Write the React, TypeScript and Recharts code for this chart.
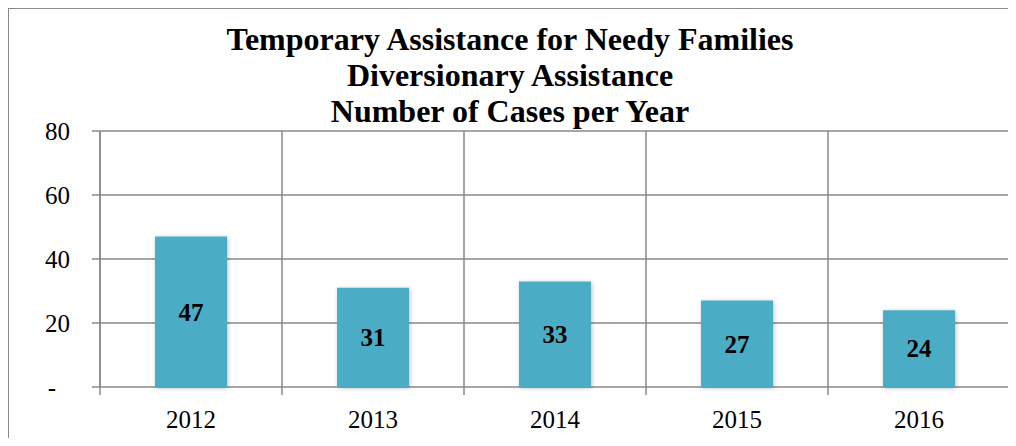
import React from "react";
import { BarChart, Bar, XAxis, YAxis, CartesianGrid, LabelList } from "recharts";

const years = ["2012", "2013", "2014", "2015", "2016"];
const cases = [47, 31, 33, 27, 24];
const yTicks = [0, 20, 40, 60, 80];
const titleLines = [
  "Temporary Assistance for Needy Families",
  "Diversionary Assistance",
  "Number of Cases per Year",
];

const data = years.map((y, i) => ({ year: y, cases: cases[i] }));

const FONT = "Liberation Serif";
const GRAY = "#898989";

const XTick = (props: any) => {
  const { x, y, payload, index, visibleTicksCount, width } = props;
  const half = width / visibleTicksCount / 2;
  return (
    <g>
      <line x1={x - half} y1={y} x2={x - half} y2={y + 8} stroke={GRAY} strokeWidth={1.5} />
      {index === visibleTicksCount - 1 && (
        <line x1={x + half} y1={y} x2={x + half} y2={y + 8} stroke={GRAY} strokeWidth={1.5} />
      )}
      <text
        x={x}
        y={y + 32}
        textAnchor="middle"
        dominantBaseline="central"
        fontFamily={FONT}
        fontSize={25}
        fill="#000"
      >
        {payload.value}
      </text>
    </g>
  );
};

const YTick = (props: any) => {
  const { x, y, payload } = props;
  const v = payload.value;
  return (
    <text
      x={v === 0 ? x - 14 : x}
      y={y}
      textAnchor="end"
      dominantBaseline="central"
      fontFamily={FONT}
      fontSize={25}
      fill="#000"
    >
      {v === 0 ? "-" : String(v)}
    </text>
  );
};

export default function App() {
  return (
    <div style={{ position: "relative", width: 1008, height: 430 }}>
      <style>{`body{overflow:hidden}`}</style>
      <div
        style={{
          position: "absolute",
          left: -1,
          top: -1,
          width: 1020,
          height: 450,
          borderLeft: `2px solid ${GRAY}`,
          borderTop: `2px solid ${GRAY}`,
          boxSizing: "border-box",
        }}
      />
      <div
        style={{
          position: "absolute",
          left: 0,
          top: 13,
          width: 1004,
          textAlign: "center",
          fontFamily: FONT,
          fontWeight: "bold",
          fontSize: 32,
          lineHeight: "36px",
          color: "#000",
        }}
      >
        {titleLines.map((t) => (
          <div key={t}>{t}</div>
        ))}
      </div>
      <div style={{ position: "absolute", left: 0, top: 0 }}>
        <BarChart
          width={1008}
          height={438}
          data={data}
          margin={{ top: 123, right: 6, left: 0, bottom: 0 }}
          barCategoryGap={55}
        >
          <defs>
            <filter id="barShadow" x="-20%" y="-20%" width="140%" height="140%">
              <feDropShadow dx="1" dy="1" stdDeviation="2" floodColor="#000" floodOpacity="0.25" />
            </filter>
          </defs>
          <CartesianGrid
            stroke={GRAY}
            strokeWidth={1.5}
            vertical={true}
            horizontal={true}
            verticalCoordinatesGenerator={({ offset }: any) =>
              [0, 1, 2, 3, 4, 5].map((i) => offset.left + (i * offset.width) / years.length)
            }
          />
          <XAxis
            dataKey="year"
            type="category"
            tickLine={false}
            axisLine={false}
            tickSize={0}
            tickMargin={0}
            height={59}
            interval={0}
            tick={XTick}
          />
          <YAxis
            domain={[0, 80]}
            ticks={yTicks}
            width={92}
            tickSize={8}
            tickMargin={22}
            stroke={GRAY}
            strokeWidth={1.5}
            tick={YTick}
            interval={0}
          />
          <Bar
            dataKey="cases"
            fill="#4BACC6"
            filter="url(#barShadow)"
            isAnimationActive={false}
          >
            <LabelList
              dataKey="cases"
              position="center"
              style={{ fontFamily: FONT, fontSize: 25, fontWeight: "bold", fill: "#000" }}
            />
          </Bar>
        </BarChart>
      </div>
    </div>
  );
}
